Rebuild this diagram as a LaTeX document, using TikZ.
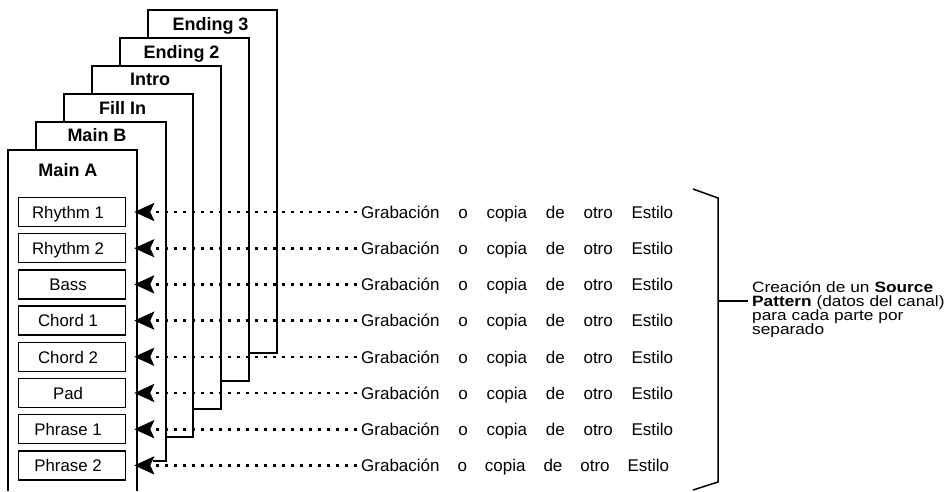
\documentclass[tikz,border=0pt]{standalone}
\usepackage{fontspec}
\setmainfont{Liberation Sans}
\newfontfamily\notefont[FakeStretch=1.15]{Liberation Sans}
\usetikzlibrary{arrows.meta}
\begin{document}
\begin{tikzpicture}[x=1pt,y=-1pt,
  frame/.style={line width=2.4pt, line join=miter, line cap=butt},
  head/.style={font=\fontsize{18}{20}\selectfont\bfseries, inner sep=0pt, text height=13pt, text depth=0pt},
  part/.style={draw, line width=1.5pt, minimum width=107pt, minimum height=29pt, inner sep=0pt,
    font=\fontsize{16.8}{18}\selectfont, text height=12.5pt, text depth=0pt},
  src/.style={anchor=west, inner sep=0pt, font=\fontsize{17}{19}\selectfont, text height=12.5pt, text depth=0pt},
  feed/.style={line width=2.6pt, dash pattern=on 2.6pt off 6.4pt, shorten <=4pt, shorten >=8pt,
    -{Stealth[length=20pt,width=18pt,inset=4pt]}},
  bracket/.style={line width=1.5pt, line join=miter},
  note/.style={anchor=base west, inner sep=0pt, align=left, text width=198pt,
    font=\notefont\fontsize{15}{14}\selectfont},
]
\useasboundingbox (0,0) rectangle (950,491);

% stacked section frames
\draw[frame] (8,491) -- (8,150) -- (137,150) -- (137,491);
\draw[frame] (36,150) -- (36,122) -- (166,122) -- (166,461) -- (153,461);
\draw[frame] (64,122) -- (64,94) -- (193,94) -- (193,437) -- (166,437);
\draw[frame] (92,94) -- (92,66) -- (221,66) -- (221,409) -- (193,409);
\draw[frame] (120,66) -- (120,38) -- (249,38) -- (249,381) -- (221,381);
\draw[frame] (148,38) -- (148,10) -- (277,10) -- (277,353) -- (249,353);

% section headers
\node[head] (hA) at (68,170) {Main A};
\node[head] (hB) at (97,135) {Main B};
\node[head] (hC) at (122.5,107.5) {Fill In};
\node[head] (hD) at (150,79) {Intro};
\node[head] (hE) at (181.5,52) {Ending 2};
\node[head] (hF) at (210.5,23.5) {Ending 3};

% parts
\node[part] (p1) at (72,212)   {\hspace*{-8pt}Rhythm 1};
\node[part] (p2) at (72,248.2) {\hspace*{-8pt}Rhythm 2};
\node[part] (p3) at (72,284.4) {\hspace*{-8pt}Bass};
\node[part] (p4) at (72,320.6) {\hspace*{-8pt}Chord 1};
\node[part] (p5) at (72,356.8) {\hspace*{-8pt}Chord 2};
\node[part] (p6) at (72,393)   {\hspace*{-8pt}Pad};
\node[part] (p7) at (72,429.2) {\hspace*{-8pt}Phrase 1};
\node[part] (p8) at (72,465.4) {\hspace*{-8pt}Phrase 2};

% sources
\node[src] (s1) at (361,212)   {\makebox[312pt][s]{Grabación o copia de otro Estilo}};
\node[src] (s2) at (361,248.2) {\makebox[312pt][s]{Grabación o copia de otro Estilo}};
\node[src] (s3) at (361,284.4) {\makebox[312pt][s]{Grabación o copia de otro Estilo}};
\node[src] (s4) at (361,320.6) {\makebox[312pt][s]{Grabación o copia de otro Estilo}};
\node[src] (s5) at (361,356.8) {\makebox[312pt][s]{Grabación o copia de otro Estilo}};
\node[src] (s6) at (361,393)   {\makebox[312pt][s]{Grabación o copia de otro Estilo}};
\node[src] (s7) at (361,429.2) {\makebox[312pt][s]{Grabación o copia de otro Estilo}};
\node[src] (s8) at (361,465.4) {\makebox[308pt][s]{Grabación o copia de otro Estilo}};

\foreach \i in {1,...,8} {\draw[feed] (s\i.west) -- (p\i.east);}

% bracket and note
\coordinate (bt1) at (693,189);
\coordinate (bt2) at (718,198);
\coordinate (bb2) at (718,482);
\coordinate (bb1) at (693,490);
\coordinate (tk) at (718,301);
\draw[bracket] (bt1) -- (bt2) -- (bb2) -- (bb1);
\node[note] (n) at (752,292) {Creación de un \textbf{Source}\\\textbf{Pattern} (datos del canal)\\para cada parte por\\separado};
\draw[bracket, shorten >=4pt] (tk) -- (tk -| n.west);
\end{tikzpicture}
\end{document}
